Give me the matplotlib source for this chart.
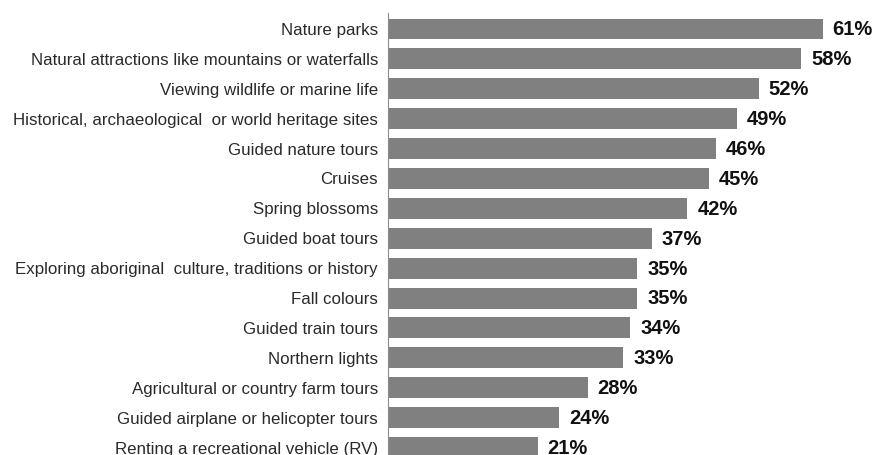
import matplotlib
matplotlib.use("Agg")
import matplotlib.pyplot as plt

activities = [
    "Nature parks",
    "Natural attractions like mountains or waterfalls",
    "Viewing wildlife or marine life",
    "Historical, archaeological  or world heritage sites",
    "Guided nature tours",
    "Cruises",
    "Spring blossoms",
    "Guided boat tours",
    "Exploring aboriginal  culture, traditions or history",
    "Fall colours",
    "Guided train tours",
    "Northern lights",
    "Agricultural or country farm tours",
    "Guided airplane or helicopter tours",
    "Renting a recreational vehicle (RV)",
]
percent = [61, 58, 52, 49, 46, 45, 42, 37, 35, 35, 34, 33, 28, 24, 21]

plt.rcParams['font.family'] = ['Liberation Sans', 'DejaVu Sans']

fig = plt.figure(figsize=(8.79, 4.55), dpi=100)
ax = fig.add_axes([388 / 879, 0, 491 / 879, 1])

ypos = list(range(len(activities)))
ax.barh(ypos, percent, height=0.7, color="#808080")

# the picture is cropped at the bottom, partway through the last bar
ax.set_ylim(14.25, -0.97)
ax.set_xlim(0, 68.9)

for y, v in zip(ypos, percent):
    ax.text(v + 1.4, y + 0.03, f"{v}%", va="center", ha="left",
            fontsize=14.5, fontweight="bold", color="#111111")

ax.set_yticks(ypos)
ax.set_yticklabels(activities, fontsize=12.2, color="#2a2a2a")
ax.tick_params(axis="y", length=0, pad=7.2)
ax.set_xticks([])

for s in ["top", "right", "bottom"]:
    ax.spines[s].set_visible(False)
ax.spines["left"].set_color("#8c8c8c")
ax.spines["left"].set_bounds(-0.55, 14.25)

fig.savefig("out.png", dpi=100)
